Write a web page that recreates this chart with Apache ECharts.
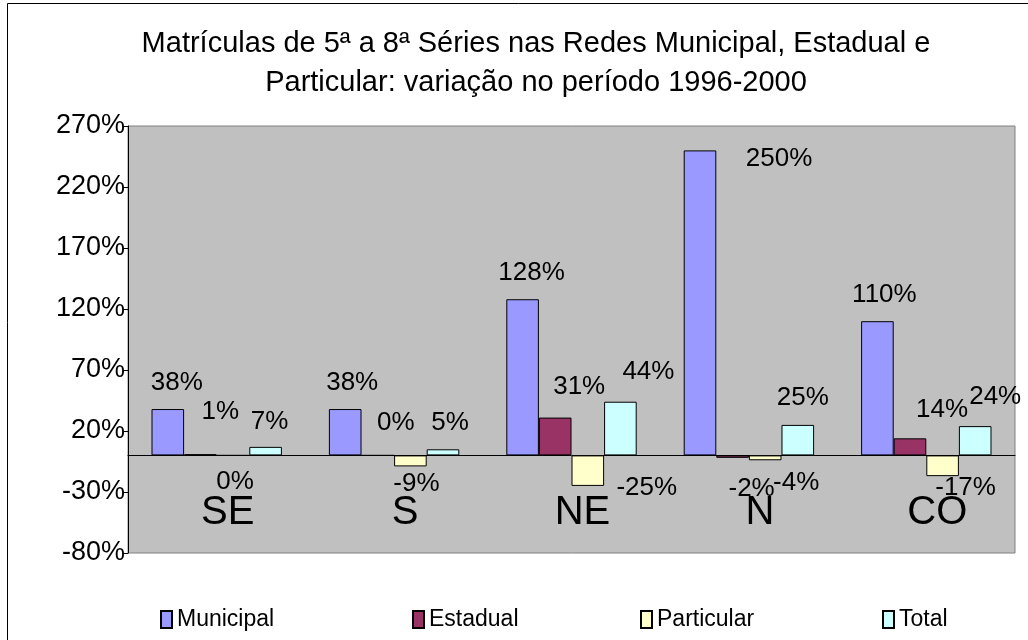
<!DOCTYPE html>
<html>
<head>
<meta charset="utf-8">
<script src="https://cdn.jsdelivr.net/npm/echarts@6/dist/echarts.min.js"></script>
<style>
  html, body { margin: 0; padding: 0; background: #fff; }
  #chart { width: 1028px; height: 640px; }
</style>
</head>
<body>
<div id="chart"></div>
<script>
// Regional enrolment change, grades 5-8, 1996-2000 (percent)
const categories = ['SE', 'S', 'NE', 'N', 'CO'];
const municipal  = [38, 38, 128, 250, 110];
const estadual   = [1, 0, 31, -2, 14];
const particular = [0, -9, -25, -4, -17];
const total      = [7, 5, 44, 25, 24];
const yTicks     = [-80, -30, 20, 70, 120, 170, 220, 270];

const titleLines = [
  'Matrículas de 5ª a 8ª Séries nas Redes Municipal, Estadual e',
  'Particular: variação no período 1996-2000'
];

// Value-label nudges [dx, dy] from the bar end, per series and region
const labelNudge = {
  Municipal:  [[9, -26], [7, -26], [9, -26], [79, 8], [7, -26]],
  Estadual:   [[20, -42], [18, -32], [24, -31], [19, 31], [32, -28]],
  Particular: [[2, 27], [6, 17], [59, 2], [31, 23], [23, 12]],
  Total:      [[4, -25], [7, -26], [28, -30], [5, -27], [20, -29]]
};

const FONT = "'Liberation Sans', Arial, sans-serif";

function makeSeries(name, values, color) {
  return {
    name: name,
    type: 'bar',
    barGap: '0%',
    barCategoryGap: '26.5%',
    itemStyle: { color: color, borderColor: '#000', borderWidth: 1 },
    label: {
      show: true,
      formatter: '{c}%',
      color: '#000',
      fontSize: 26,
      fontFamily: FONT
    },
    data: values.map((v, i) => ({
      value: v,
      label: {
        position: v < 0 ? 'bottom' : 'top',
        distance: 0,
        align: 'center',
        verticalAlign: 'middle',
        offset: labelNudge[name][i]
      }
    }))
  };
}

const legendLeft = [160, 412, 640, 882];
const seriesNames = ['Municipal', 'Estadual', 'Particular', 'Total'];

const chart = echarts.init(document.getElementById('chart'), null, { renderer: 'canvas' });
chart.setOption({
  animation: false,
  backgroundColor: '#fff',
  graphic: [
    {
      type: 'rect', silent: true, z: 100,
      shape: { x: 7.5, y: 3.5, width: 1100, height: 700 },
      style: { fill: 'none', stroke: '#000', lineWidth: 1 }
    },
    {
      type: 'text', silent: true,
      style: { text: titleLines[0], x: 536, y: 44, align: 'center', verticalAlign: 'middle',
               font: "29px " + FONT, fill: '#000' }
    },
    {
      type: 'text', silent: true,
      style: { text: titleLines[1], x: 536, y: 83, align: 'center', verticalAlign: 'middle',
               font: "29px " + FONT, fill: '#000' }
    }
  ],
  legend: seriesNames.map((n, i) => ({
    data: [n],
    left: legendLeft[i],
    top: 608,
    padding: 0,
    icon: 'rect',
    itemWidth: 11,
    itemHeight: 17,
    itemGap: 0,
    selectedMode: false,
    textStyle: { fontSize: 23, fontFamily: FONT, color: '#000' }
  })),
  grid: {
    left: 128, right: 13, top: 126, bottom: 87,
    show: true,
    backgroundColor: '#C0C0C0',
    borderColor: '#808080',
    borderWidth: 1
  },
  xAxis: {
    type: 'category',
    data: categories,
    axisLine: { onZero: true, lineStyle: { color: '#000', width: 1 } },
    axisTick: { show: false },
    axisLabel: {
      margin: -60,
      fontSize: 40,
      fontFamily: FONT,
      color: '#000',
      padding: [0, 0, 0, 22]
    },
    splitLine: { show: false }
  },
  yAxis: {
    type: 'value',
    min: -80,
    max: 270,
    interval: 50,
    axisLine: { show: true, lineStyle: { color: '#000', width: 1 } },
    axisTick: { show: true, length: 4, customValues: yTicks, lineStyle: { color: '#000' } },
    axisLabel: {
      customValues: yTicks,
      formatter: v => v + '%',
      fontSize: 27,
      fontFamily: FONT,
      color: '#000',
      margin: 3
    },
    splitLine: { show: false }
  },
  series: [
    makeSeries('Municipal', municipal, '#9999FF'),
    makeSeries('Estadual', estadual, '#993366'),
    makeSeries('Particular', particular, '#FFFFCC'),
    makeSeries('Total', total, '#CCFFFF')
  ]
});
</script>
</body>
</html>
